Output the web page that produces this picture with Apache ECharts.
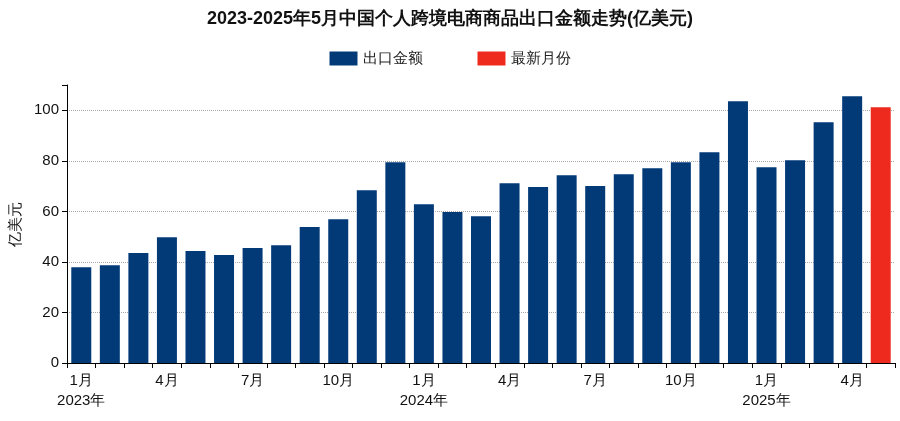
<!DOCTYPE html>
<html lang="zh">
<head>
    <meta charset="UTF-8">
    <title>个人跨境电商出口</title>
    <script src="https://cdn.jsdelivr.net/npm/echarts@6/dist/echarts.min.js"></script>
</head>
<body style="margin:0">
<div id="barChart" style="width: 900px;height: 421px;"></div>
<script>
    // 月份（2023年1月 - 2025年5月）
    let months = ['1月', '2月', '3月', '4月', '5月', '6月', '7月', '8月', '9月', '10月', '11月', '12月',
        '1月', '2月', '3月', '4月', '5月', '6月', '7月', '8月', '9月', '10月', '11月', '12月',
        '1月', '2月', '3月', '4月', '5月'];
    let years = {0: '2023年', 12: '2024年', 24: '2025年'};
    let exportValues = [37.9, 38.7, 43.5, 49.8, 44.3, 42.7, 45.5, 46.6, 53.8, 56.9, 68.4, 79.4,
        62.8, 59.7, 58.1, 71.1, 69.6, 74.3, 70.0, 74.7, 77.1, 79.4, 83.4, 103.6,
        77.5, 80.2, 95.3, 105.5];
    let latestValue = 101.2;

    let n = months.length;
    let mainData = exportValues.concat([null]);
    let latestData = months.map((m, i) => i === n - 1 ? latestValue : null);

    let myBarChart = echarts.init(document.getElementById('barChart'));
    let barOption = {
        title: {
            text: '2023-2025年5月中国个人跨境电商商品出口金额走势(亿美元)',
            left: 'center',
            top: 5,
            textStyle: {fontSize: 18, fontWeight: 'bold', color: '#111'}
        },
        legend: {
            top: 46,
            left: 'center',
            icon: 'rect',
            itemWidth: 28,
            itemHeight: 14,
            itemGap: 55,
            textStyle: {fontSize: 15, color: '#222'},
            data: ['出口金额', '最新月份']
        },
        grid: {left: 67, right: 5, top: 85, bottom: 58},
        xAxis: {
            type: 'category',
            data: months,
            axisLine: {lineStyle: {color: '#000'}},
            axisTick: {show: true, interval: 0, lineStyle: {color: '#000'}},
            axisLabel: {
                interval: 0,
                color: '#111',
                fontSize: 15,
                lineHeight: 20,
                formatter: function (v, i) {
                    if (i % 3 !== 0) return '';
                    return years[i] ? v + '\n' + years[i] : v;
                }
            }
        },
        yAxis: {
            type: 'value',
            min: 0,
            max: 110,
            interval: 20,
            name: '亿美元',
            nameLocation: 'middle',
            nameGap: 40,
            nameTextStyle: {fontSize: 15, color: '#111'},
            axisLine: {show: true, lineStyle: {color: '#000'}},
            axisTick: {show: true, lineStyle: {color: '#000'}},
            axisLabel: {
                color: '#111', fontSize: 15,
                formatter: v => v > 100 ? '' : v
            },
            splitLine: {showMaxLine: false, lineStyle: {color: '#aaa', type: 'dotted'}}
        },
        series: [{
            name: '出口金额',
            type: 'bar',
            data: mainData,
            barCategoryGap: '30%',
            barGap: '-100%',
            itemStyle: {color: '#023a78'}
        }, {
            name: '最新月份',
            type: 'bar',
            data: latestData,
            itemStyle: {color: '#ee2a1f'}
        }]
    };
    myBarChart.setOption(barOption);
</script>
</body>
</html>
